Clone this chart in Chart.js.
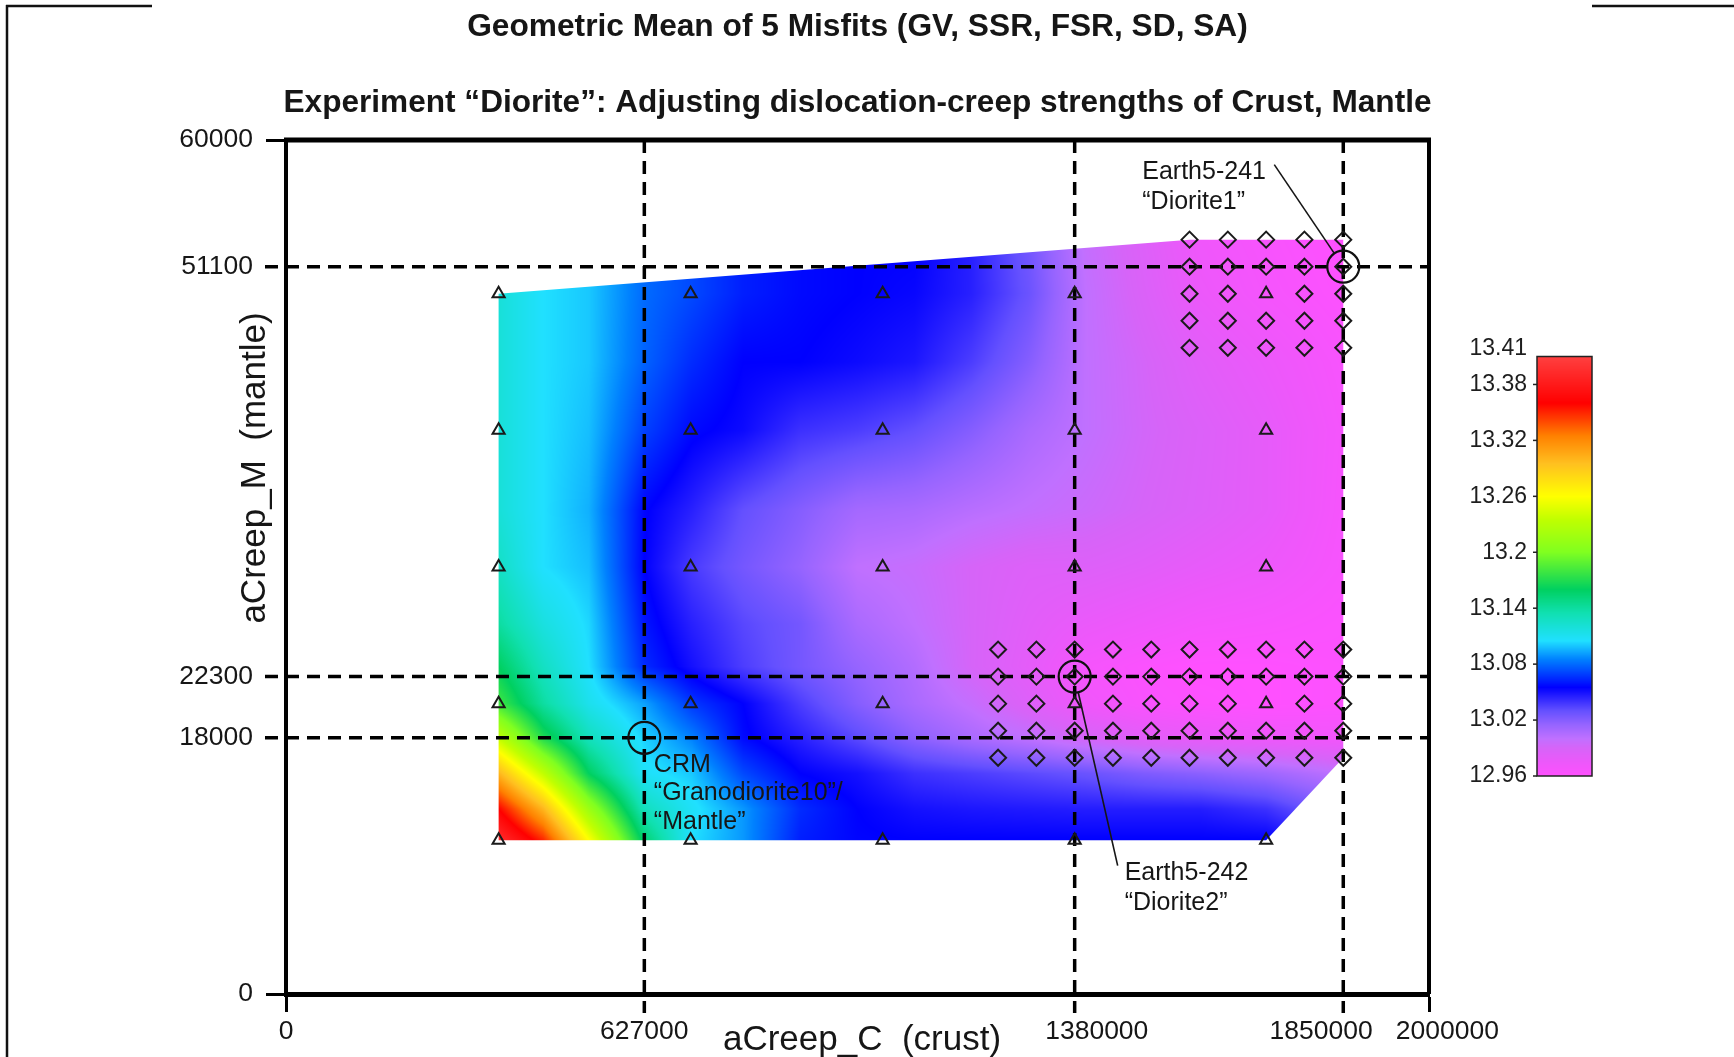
<!DOCTYPE html>
<html>
<head>
<meta charset="utf-8">
<script src="https://cdn.jsdelivr.net/npm/chart.js@4.4.1/dist/chart.umd.min.js"></script>
<style>
html, body { margin: 0; padding: 0; background: #ffffff; }
canvas { display: block; }
</style>
</head>
<body>
<canvas id="chart" width="1734" height="1057"></canvas>
<script>
// ---------------- DATA ----------------
const chartTitle = "Geometric Mean of 5 Misfits (GV, SSR, FSR, SD, SA)";
const chartSubtitle = "Experiment \u201cDiorite\u201d: Adjusting dislocation-creep strengths of Crust, Mantle";
const xAxisTitle = "aCreep_C  (crust)";
const yAxisTitle = "aCreep_M  (mantle)";

const xTickValues = [0, 627000, 1380000, 1850000, 2000000];
const yTickValues = [0, 18000, 22300, 51100, 60000];
const xRefLines = [627000, 1380000, 1850000];
const yRefLines = [18000, 22300, 51100];

// coarse survey (triangles)
const triCrust = [372000, 708000, 1044000, 1380000, 1715000];
const triMantle = [10800, 20400, 30000, 39600, 49200];
// fine survey (diamonds), lower cluster
const dLowCrust = [1246000, 1313000, 1380000, 1447000, 1514000, 1581000, 1648000, 1715000, 1782000, 1850000];
const dLowMantle = [16600, 18500, 20400, 22300, 24200];
// fine survey (diamonds), upper cluster
const dUpCrust = [1581000, 1648000, 1715000, 1782000, 1850000];
const dUpMantle = [45400, 47300, 49200, 51100, 53000];

// highlighted runs
const runCrust = [1850000, 1380000, 627000];
const runMantle = [51100, 22300, 18000];
const runLabels = [
  ["Earth5-241", "\u201cDiorite1\u201d"],
  ["Earth5-242", "\u201cDiorite2\u201d"],
  ["CRM", "\u201cGranodiorite10\u201d/", "\u201cMantle\u201d"]
];

// outline of the sampled region (convex hull of the runs)
const hullCrust = [372000, 372000, 1581000, 1850000, 1850000, 1715000];
const hullMantle = [10800, 49200, 53000, 53000, 16600, 10800];

// misfit surface: rows = fieldMantle, columns = fieldCrust
const fieldCrust = [372000, 450000, 530000, 627000, 710000, 800000, 900000, 1000000, 1100000, 1200000, 1300000, 1400000, 1500000, 1600000, 1715000, 1850000];
const fieldMantle = [10800, 13000, 15500, 18000, 20400, 23000, 26000, 30000, 34000, 39600, 44400, 49200, 53000];
const fieldValues = [
  [13.395, 13.350, 13.260, 13.155, 13.105, 13.090, 13.062, 13.056, 13.055, 13.055, 13.055, 13.055, 13.055, 13.055, 13.055, 13.040],
  [13.360, 13.300, 13.215, 13.130, 13.108, 13.090, 13.065, 13.055, 13.050, 13.048, 13.047, 13.046, 13.046, 13.046, 13.040, 13.020],
  [13.300, 13.235, 13.160, 13.108, 13.100, 13.072, 13.055, 13.050, 13.040, 13.036, 13.032, 13.028, 13.022, 13.018, 13.012, 13.000],
  [13.235, 13.170, 13.130, 13.102, 13.085, 13.057, 13.045, 13.032, 13.018, 13.008, 13.000, 12.990, 12.982, 12.977, 12.973, 12.970],
  [13.180, 13.140, 13.112, 13.092, 13.068, 13.055, 13.036, 13.020, 13.008, 12.998, 12.985, 12.972, 12.965, 12.962, 12.960, 12.962],
  [13.160, 13.128, 13.105, 13.065, 13.050, 13.036, 13.025, 13.015, 13.005, 12.990, 12.980, 12.968, 12.963, 12.960, 12.960, 12.962],
  [13.140, 13.117, 13.103, 13.060, 13.045, 13.033, 13.025, 13.008, 13.000, 12.990, 12.982, 12.976, 12.972, 12.968, 12.966, 12.963],
  [13.127, 13.105, 13.098, 13.055, 13.037, 13.025, 13.015, 13.000, 12.997, 12.990, 12.985, 12.985, 12.982, 12.978, 12.974, 12.966],
  [13.120, 13.105, 13.095, 13.056, 13.045, 13.030, 13.020, 13.010, 13.008, 13.003, 12.999, 12.995, 12.990, 12.985, 12.979, 12.967],
  [13.120, 13.105, 13.098, 13.070, 13.057, 13.052, 13.040, 13.036, 13.030, 13.020, 13.008, 13.000, 12.992, 12.986, 12.979, 12.968],
  [13.120, 13.105, 13.100, 13.078, 13.065, 13.055, 13.055, 13.052, 13.048, 13.036, 13.020, 13.000, 12.991, 12.982, 12.975, 12.966],
  [13.120, 13.105, 13.100, 13.080, 13.072, 13.062, 13.057, 13.055, 13.053, 13.045, 13.028, 13.000, 12.987, 12.975, 12.968, 12.962],
  [13.120, 13.105, 13.100, 13.080, 13.072, 13.062, 13.057, 13.055, 13.055, 13.045, 13.025, 12.998, 12.985, 12.972, 12.966, 12.960]
];

// colour scale
const cbarMin = 12.96;
const cbarMax = 13.41;
const cbarTicks = [13.38, 13.32, 13.26, 13.2, 13.14, 13.08, 13.02, 12.96];
const cmapValues = [12.96, 12.975, 12.99, 13.0, 13.015, 13.03, 13.055, 13.085, 13.105, 13.135, 13.16, 13.2, 13.235, 13.26, 13.295, 13.325, 13.36, 13.41];
const cmapColors = [
  [255, 80, 255], [236, 88, 250], [214, 100, 248], [192, 112, 255], [150, 100, 255], [100, 80, 255],
  [0, 0, 255], [0, 128, 255], [32, 224, 255], [16, 224, 176], [0, 208, 96], [128, 255, 32],
  [192, 255, 0], [255, 255, 0], [255, 192, 32], [255, 128, 0], [255, 0, 0], [255, 64, 64]
];

// ---------------- HELPERS ----------------
function colorFor(v) {
  const n = cmapValues.length;
  if (v <= cmapValues[0]) return cmapColors[0];
  if (v >= cmapValues[n - 1]) return cmapColors[n - 1];
  let i = 1;
  while (v > cmapValues[i]) i++;
  const t = (v - cmapValues[i - 1]) / (cmapValues[i] - cmapValues[i - 1]);
  const a = cmapColors[i - 1], b = cmapColors[i];
  return [a[0] + (b[0] - a[0]) * t, a[1] + (b[1] - a[1]) * t, a[2] + (b[2] - a[2]) * t];
}
function locate(arr, v) {
  const n = arr.length;
  if (v <= arr[0]) return [0, 0];
  if (v >= arr[n - 1]) return [n - 2, 1];
  let i = 0;
  while (v > arr[i + 1]) i++;
  return [i, (v - arr[i]) / (arr[i + 1] - arr[i])];
}
function fieldAt(c, m) {
  const [i, tx] = locate(fieldCrust, c);
  const [j, ty] = locate(fieldMantle, m);
  const a = fieldValues[j][i], b = fieldValues[j][i + 1];
  const d = fieldValues[j + 1][i], e = fieldValues[j + 1][i + 1];
  return (a * (1 - tx) + b * tx) * (1 - ty) + (d * (1 - tx) + e * tx) * ty;
}

const triPoints = [];
triMantle.forEach(m => triCrust.forEach(c => triPoints.push({ x: c, y: m })));
const isTri = (c, m) => triCrust.includes(c) && triMantle.includes(m);
const diaPoints = [];
[[dLowCrust, dLowMantle], [dUpCrust, dUpMantle]].forEach(([cs, ms]) => {
  ms.forEach(m => cs.forEach(c => { if (!isTri(c, m)) diaPoints.push({ x: c, y: m }); }));
});
const runPoints = runCrust.map((c, k) => ({ x: c, y: runMantle[k] }));

// ---------------- STYLE / LAYOUT ----------------
const FONT = '"Liberation Sans", Arial, Helvetica, sans-serif';
const INK = '#161616';
const runRadius = 16;
const xLabelLead = [0, 0, 6, 0, 5];
const xLabelTrail = [0, 0, 0, 6, 0];
const labelLayout = [
  { dx: -201, dy: -88, lh: 30.5, lead: [-69, -102] },
  { dx: 50, dy: 203, lh: 30, lead: [43, 189] },
  { dx: 9.5, dy: 34, lh: 28.5, lead: null }
];

const fieldPlugin = {
  id: 'field',
  beforeDatasetsDraw(chart) {
    const { ctx, chartArea: ca, scales: { x, y } } = chart;
    const px = hullCrust.map(v => x.getPixelForValue(v));
    const py = hullMantle.map(v => y.getPixelForValue(v));
    const x0 = Math.floor(Math.min(...px)), x1 = Math.ceil(Math.max(...px));
    const y0 = Math.floor(Math.min(...py)), y1 = Math.ceil(Math.max(...py));
    const w = x1 - x0, h = y1 - y0;
    const off = document.createElement('canvas');
    off.width = w; off.height = h;
    const octx = off.getContext('2d');
    const img = octx.createImageData(w, h);
    for (let j = 0; j < h; j++) {
      const m = y.getValueForPixel(y0 + j + 0.5);
      for (let i = 0; i < w; i++) {
        const c = x.getValueForPixel(x0 + i + 0.5);
        const col = colorFor(fieldAt(c, m));
        const k = (j * w + i) * 4;
        img.data[k] = col[0]; img.data[k + 1] = col[1]; img.data[k + 2] = col[2]; img.data[k + 3] = 255;
      }
    }
    octx.putImageData(img, 0, 0);
    ctx.save();
    ctx.beginPath();
    px.forEach((X, k) => k ? ctx.lineTo(X, py[k]) : ctx.moveTo(X, py[k]));
    ctx.closePath();
    ctx.clip();
    ctx.drawImage(off, x0, y0);
    ctx.restore();

    // dashed reference lines
    ctx.save();
    ctx.strokeStyle = '#000';
    ctx.lineWidth = 3.5;
    ctx.setLineDash([13, 8]);
    xRefLines.forEach(v => {
      const X = x.getPixelForValue(v);
      ctx.beginPath(); ctx.moveTo(X, ca.top); ctx.lineTo(X, ca.bottom + 19); ctx.stroke();
    });
    yRefLines.forEach(v => {
      const Y = y.getPixelForValue(v);
      ctx.beginPath(); ctx.moveTo(ca.left - 21, Y); ctx.lineTo(ca.right, Y); ctx.stroke();
    });
    ctx.restore();
  }
};

const annotPlugin = {
  id: 'annot',
  afterDatasetsDraw(chart) {
    const { ctx, scales: { x, y } } = chart;
    ctx.save();
    ctx.font = '25px ' + FONT;
    ctx.fillStyle = INK;
    ctx.textAlign = 'left';
    ctx.textBaseline = 'alphabetic';
    ctx.strokeStyle = INK;
    ctx.lineWidth = 1.6;
    runLabels.forEach((lines, k) => {
      const cx = x.getPixelForValue(runCrust[k]);
      const cy = y.getPixelForValue(runMantle[k]);
      const L = labelLayout[k];
      lines.forEach((t, n) => ctx.fillText(t, cx + L.dx, cy + L.dy + n * L.lh));
      if (L.lead) {
        const ex = cx + L.lead[0], ey = cy + L.lead[1];
        const d = Math.hypot(L.lead[0], L.lead[1]);
        ctx.beginPath();
        ctx.moveTo(cx + L.lead[0] / d * runRadius, cy + L.lead[1] / d * runRadius);
        ctx.lineTo(ex, ey);
        ctx.stroke();
      }
    });
    ctx.restore();
  }
};

const decorPlugin = {
  id: 'decor',
  afterDraw(chart) {
    const { ctx, chartArea: ca } = chart;
    ctx.save();
    // plot frame top & right
    ctx.strokeStyle = '#000';
    ctx.lineWidth = 5;
    ctx.beginPath(); ctx.moveTo(ca.left - 2, ca.top); ctx.lineTo(ca.right + 2, ca.top); ctx.stroke();
    ctx.lineWidth = 4;
    ctx.beginPath(); ctx.moveTo(ca.right, ca.top); ctx.lineTo(ca.right, ca.bottom); ctx.stroke();

    // outer page frame fragments
    ctx.lineWidth = 2.5;
    ctx.strokeStyle = '#111';
    ctx.beginPath(); ctx.moveTo(7, 5); ctx.lineTo(7, 1057); ctx.stroke();
    ctx.beginPath(); ctx.moveTo(6, 6); ctx.lineTo(152, 6); ctx.stroke();
    ctx.beginPath(); ctx.moveTo(1592, 6); ctx.lineTo(1734, 6); ctx.stroke();

    // titles
    const cxm = (ca.left + ca.right) / 2;
    ctx.fillStyle = INK;
    ctx.textAlign = 'center';
    ctx.textBaseline = 'alphabetic';
    ctx.font = 'bold 31.7px ' + FONT;
    ctx.fillText(chartTitle, cxm, 36);
    ctx.font = 'bold 31.6px ' + FONT;
    ctx.fillText(chartSubtitle, cxm, 112);

    // axis titles
    ctx.font = '35px ' + FONT;
    ctx.fillText(xAxisTitle, 862, 1050);
    ctx.save();
    ctx.translate(255, 468);
    ctx.rotate(-Math.PI / 2);
    ctx.textBaseline = 'middle';
    ctx.fillText(yAxisTitle, 0, 0);
    ctx.restore();

    // colour bar
    const bx0 = 1537, bx1 = 1592, by0 = 356.5, by1 = 776;
    const toY = v => by0 + (cbarMax - v) / (cbarMax - cbarMin) * (by1 - by0);
    for (let yy = Math.floor(by0); yy < by1; yy++) {
      const v = cbarMax - (yy + 0.5 - by0) / (by1 - by0) * (cbarMax - cbarMin);
      const c = colorFor(v);
      ctx.fillStyle = 'rgb(' + Math.round(c[0]) + ',' + Math.round(c[1]) + ',' + Math.round(c[2]) + ')';
      ctx.fillRect(bx0, yy, bx1 - bx0, 1);
    }
    ctx.strokeStyle = '#222';
    ctx.lineWidth = 1.5;
    ctx.strokeRect(bx0, by0, bx1 - bx0, by1 - by0);
    ctx.font = '23px ' + FONT;
    ctx.fillStyle = '#1e1e1e';
    ctx.textAlign = 'right';
    ctx.textBaseline = 'middle';
    cbarTicks.forEach(v => {
      const Y = toY(v);
      ctx.beginPath(); ctx.moveTo(bx0 - 4, Y); ctx.lineTo(bx0, Y); ctx.stroke();
      ctx.fillText(String(v), bx0 - 10, Y);
    });
    ctx.fillText(String(cbarMax), bx0 - 10, by0 - 8);
    ctx.restore();
  }
};

// ---------------- CHART ----------------
new Chart(document.getElementById('chart'), {
  type: 'scatter',
  data: {
    datasets: [
      { label: 'coarse runs', data: triPoints, pointStyle: 'triangle', pointRadius: 7, borderColor: '#1a1a1a', backgroundColor: 'rgba(0,0,0,0)', borderWidth: 2 },
      { label: 'fine runs', data: diaPoints, pointStyle: 'rectRot', pointRadius: 8, borderColor: '#1a1a1a', backgroundColor: 'rgba(0,0,0,0)', borderWidth: 2 },
      { label: 'selected runs', data: runPoints, pointStyle: 'circle', pointRadius: runRadius, borderColor: '#111', backgroundColor: 'rgba(0,0,0,0)', borderWidth: 2.2 }
    ]
  },
  options: {
    responsive: false,
    animation: false,
    devicePixelRatio: 1,
    events: [],
    layout: { padding: { left: 0, top: 140, right: 305, bottom: 0 } },
    plugins: { legend: { display: false }, tooltip: { enabled: false }, title: { display: false } },
    scales: {
      x: {
        type: 'linear', min: 0, max: 2000000,
        afterBuildTicks: s => { s.ticks = xTickValues.map(v => ({ value: v })); },
        afterFit: s => { s.height = 63; },
        ticks: {
          autoSkip: false, maxRotation: 0, minRotation: 0, padding: 4,
          color: INK, font: { family: FONT, size: 26.5 },
          callback: v => { const i = xTickValues.indexOf(v); return ' '.repeat(xLabelLead[i]) + String(v) + ' '.repeat(xLabelTrail[i]); }
        },
        grid: {
          drawOnChartArea: false, drawTicks: true, tickLength: 18, tickWidth: 3,
          tickColor: ctx => (ctx.tick && xRefLines.includes(ctx.tick.value)) ? 'rgba(0,0,0,0)' : '#000'
        },
        border: { display: true, color: '#000', width: 5 }
      },
      y: {
        type: 'linear', min: 0, max: 60000,
        afterBuildTicks: s => { s.ticks = yTickValues.map(v => ({ value: v })); },
        afterFit: s => { s.width = 286; },
        ticks: {
          autoSkip: false, padding: 13,
          color: INK, font: { family: FONT, size: 26.5 },
          callback: v => String(v)
        },
        grid: {
          drawOnChartArea: false, drawTicks: true, tickLength: 20, tickWidth: 3,
          tickColor: ctx => (ctx.tick && yRefLines.includes(ctx.tick.value)) ? 'rgba(0,0,0,0)' : '#000'
        },
        border: { display: true, color: '#000', width: 4 }
      }
    }
  },
  plugins: [fieldPlugin, annotPlugin, decorPlugin]
});
</script>
</body>
</html>
